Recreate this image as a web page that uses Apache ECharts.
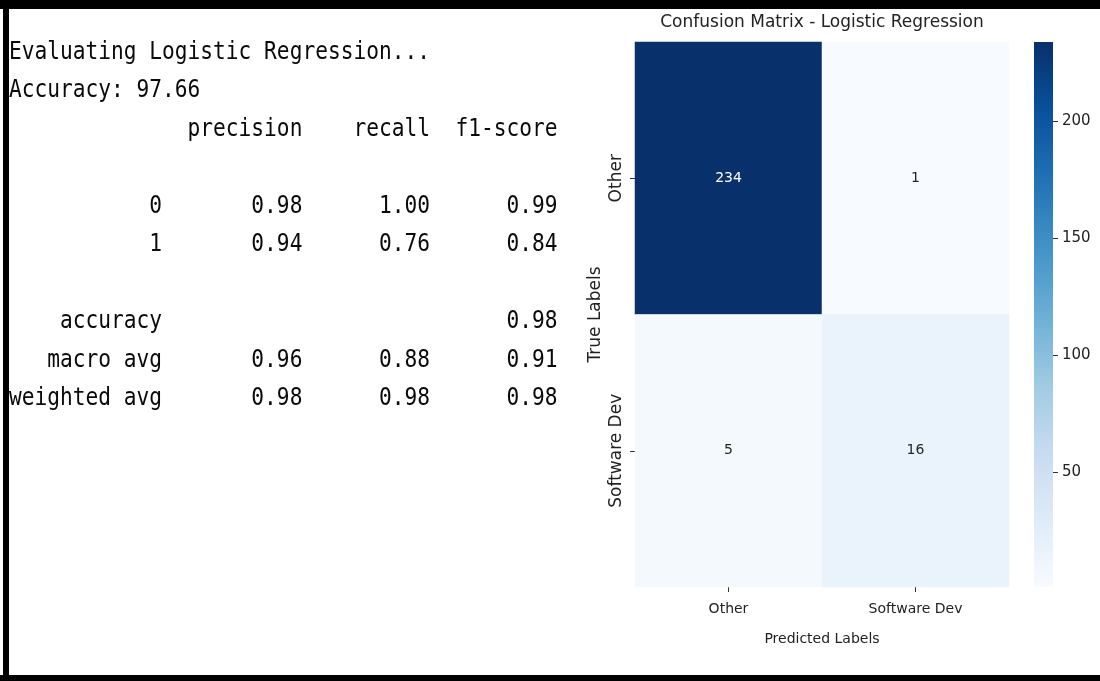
<!DOCTYPE html>
<html>
<head>
<meta charset="utf-8">
<title>Logistic Regression evaluation</title>
<script src="https://cdn.jsdelivr.net/npm/echarts@6/dist/echarts.min.js"></script>
<style>
  html, body { margin: 0; padding: 0; background: #ffffff; }
  #chart { width: 1100px; height: 681px; }
</style>
</head>
<body>
<div id="chart"></div>
<script>
// ---- Classification report ----
const modelName = 'Logistic Regression';
const accuracyPct = 97.66;
const reportHeader = ['precision', 'recall', 'f1-score'];
const classRows = ['0', '1'];
const classPrecision = [0.98, 0.94];
const classRecall = [1.00, 0.76];
const classF1 = [0.99, 0.84];
const overallAccuracy = 0.98;
const avgRows = ['macro avg', 'weighted avg'];
const avgPrecision = [0.96, 0.98];
const avgRecall = [0.88, 0.98];
const avgF1 = [0.91, 0.98];

// ---- Confusion matrix (rows: true label, columns: predicted label) ----
const labels = ['Other', 'Software Dev'];
const matrix = [
  [234, 1],
  [5, 16]
];
const colorbarTicks = [50, 100, 150, 200];
const blues = ['#f7fbff', '#deebf7', '#c6dbef', '#9ecae1', '#6baed6',
               '#4292c6', '#2171b5', '#08519c', '#08306b'];

// sklearn-style fixed-width report lines
const NAME_W = 12;
const col = v => ' ' + (typeof v === 'number' ? v.toFixed(2) : v).padStart(9);
const headerLine = ' '.repeat(NAME_W) + ' ' + reportHeader.map(col).join('');
const rowLine = (name, p, r, f) => name.padStart(NAME_W) + ' ' + col(p) + col(r) + col(f);
const reportLines = [
  'Evaluating ' + modelName + '...',
  'Accuracy: ' + accuracyPct.toFixed(2),
  headerLine,
  '',
  ...classRows.map((n, i) => rowLine(n, classPrecision[i], classRecall[i], classF1[i])),
  '',
  'accuracy'.padStart(NAME_W) + ' ' + col('') + col('') + col(overallAccuracy),
  ...avgRows.map((n, i) => rowLine(n, avgPrecision[i], avgRecall[i], avgF1[i]))
];

const flat = matrix.flat();
const vMin = Math.min(...flat);
const vMax = Math.max(...flat);
const vMid = (vMin + vMax) / 2;

const heatData = [];
matrix.forEach((row, i) => {
  row.forEach((v, j) => {
    heatData.push({
      value: [j, i, v],
      label: { color: v > vMid ? '#ffffff' : '#262626' }
    });
  });
});

// console text block
const textElements = reportLines.map((line, k) => line ? {
  type: 'text',
  x: 9,
  y: 52 + 38.5 * k,
  scaleY: 1.2,
  z: 10,
  style: {
    text: line,
    fill: '#0a0a0a',
    font: '21.2px "DejaVu Sans Mono", "Liberation Mono", monospace',
    verticalAlign: 'middle',
    align: 'left'
  }
} : null).filter(Boolean);

// frame around the screenshot
const frame = [
  { type: 'rect', shape: { x: 0, y: 0, width: 1100, height: 9 } },
  { type: 'rect', shape: { x: 3, y: 0, width: 6, height: 681 } },
  { type: 'rect', shape: { x: 0, y: 675, width: 1100, height: 6 } }
].map(r => Object.assign(r, { z: 100, style: { fill: '#000000' }, silent: true }));

const chart = echarts.init(document.getElementById('chart'), null, { renderer: 'canvas' });

chart.setOption({
  backgroundColor: '#ffffff',
  animation: false,
  textStyle: { fontFamily: '"DejaVu Sans", "Noto Sans", sans-serif' },
  title: {
    text: 'Confusion Matrix - ' + modelName,
    left: 822,
    top: 14,
    textAlign: 'center',
    padding: 0,
    textStyle: { fontSize: 17, fontWeight: 'normal', color: '#222222' }
  },
  grid: [
    { left: 635, top: 42, width: 374, height: 545, containLabel: false },
    { left: 1034, top: 42, width: 19, height: 545, containLabel: false }
  ],
  xAxis: [
    {
      type: 'category',
      gridIndex: 0,
      data: labels,
      position: 'bottom',
      axisLine: { show: false },
      axisTick: { show: true, alignWithLabel: true, length: 5, lineStyle: { color: '#333333' } },
      axisLabel: { fontSize: 14, color: '#222222', margin: 15 },
      splitLine: { show: false },
      name: 'Predicted Labels',
      nameLocation: 'middle',
      nameGap: 45,
      nameTextStyle: { fontSize: 14, color: '#222222' }
    },
    {
      type: 'category',
      gridIndex: 1,
      data: [''],
      show: false
    }
  ],
  yAxis: [
    {
      type: 'category',
      gridIndex: 0,
      data: labels,
      inverse: true,
      axisLine: { show: false },
      axisTick: { show: true, alignWithLabel: true, length: 5, lineStyle: { color: '#333333' } },
      axisLabel: { fontSize: 17, color: '#222222', rotate: 90, margin: 10 },
      splitLine: { show: false },
      name: 'True Labels',
      nameLocation: 'middle',
      nameRotate: 90,
      nameGap: 31,
      nameTextStyle: { fontSize: 17, color: '#222222' }
    },
    {
      type: 'value',
      gridIndex: 1,
      position: 'right',
      min: vMin,
      max: vMax,
      axisLine: { show: false },
      splitLine: { show: false },
      axisTick: { show: true, length: 5, customValues: colorbarTicks, lineStyle: { color: '#333333' } },
      axisLabel: { fontSize: 15, color: '#222222', margin: 9, customValues: colorbarTicks }
    }
  ],
  visualMap: {
    type: 'continuous',
    show: false,
    seriesIndex: 0,
    min: vMin,
    max: vMax,
    inRange: { color: blues }
  },
  series: [
    {
      type: 'heatmap',
      xAxisIndex: 0,
      yAxisIndex: 0,
      data: heatData,
      label: { show: true, fontSize: 14 },
      itemStyle: { borderWidth: 0 },
      emphasis: { disabled: true }
    },
    {
      type: 'bar',
      xAxisIndex: 1,
      yAxisIndex: 1,
      data: [vMax],
      barWidth: '100%',
      silent: true,
      itemStyle: {
        color: new echarts.graphic.LinearGradient(0, 0, 0, 1,
          blues.slice().reverse().map((c, i, arr) => ({ offset: i / (arr.length - 1), color: c })))
      }
    }
  ],
  graphic: textElements.concat(frame)
});
</script>
</body>
</html>
